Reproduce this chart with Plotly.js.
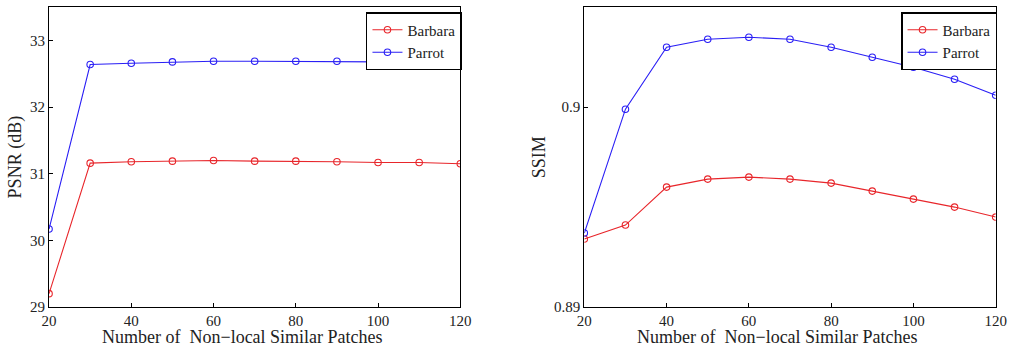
<!DOCTYPE html>
<html>
<head>
<meta charset="utf-8">
<script src="https://cdn.plot.ly/plotly-3.0.1.min.js"></script>
<style>html,body{margin:0;padding:0;background:#fff}#plot{width:1009px;height:347px}</style>
</head>
<body>
<div id="plot"></div>
<script>
const patches = [20, 30, 40, 50, 60, 70, 80, 90, 100, 110, 120];
const psnrBarbara = [29.20, 31.16, 31.18, 31.19, 31.20, 31.19, 31.19, 31.18, 31.17, 31.17, 31.15];
const psnrParrot  = [30.17, 32.64, 32.66, 32.68, 32.69, 32.69, 32.69, 32.69, 32.68, 32.67, 32.65];
const ssimBarbara = [0.8934, 0.8941, 0.8960, 0.8964, 0.8965, 0.8964, 0.8962, 0.8958, 0.8954, 0.8950, 0.8945];
const ssimParrot  = [0.8937, 0.8999, 0.9030, 0.9034, 0.9035, 0.9034, 0.9030, 0.9025, 0.9020, 0.9014, 0.9006];
const xTicks = [20, 40, 60, 80, 100, 120];
const psnrTicks = [29, 30, 31, 32, 33];
const ssimTicks = [0.89, 0.9];
const ssimTickText = ['0.89', '0.9'];
const seriesNames = ['Barbara', 'Parrot'];
const xTitle = 'Number of  Non\u2212local Similar Patches';

const RED = '#e8262b', BLUE = '#2a1ff5';
const FONT = '"Liberation Serif", "Times New Roman", serif';
const TITLEFONT = {family: FONT, size: 18, color: '#222'};

function tr(x, y, name, color, xa, ya, leg) {
  return {x: x, y: y, name: name, type: 'scatter', mode: 'lines+markers',
    xaxis: xa, yaxis: ya, legend: leg,
    line: {color: color, width: 1.1},
    marker: {symbol: 'circle-open', size: 6.5, color: color, line: {width: 1.1, color: color}}};
}
const data = [
  tr(patches, psnrBarbara, seriesNames[0], RED, 'x', 'y', 'legend'),
  tr(patches, psnrParrot, seriesNames[1], BLUE, 'x', 'y', 'legend'),
  tr(patches, ssimBarbara, seriesNames[0], RED, 'x2', 'y2', 'legend2'),
  tr(patches, ssimParrot, seriesNames[1], BLUE, 'x2', 'y2', 'legend2')
];
const axBase = {showgrid: false, zeroline: false, showline: true, mirror: true,
  linecolor: '#000', linewidth: 1, ticks: 'inside', ticklen: 4, tickcolor: '#000',
  tickfont: {family: FONT, size: 15, color: '#222'}};
const legBase = {bgcolor: '#fff', bordercolor: '#000', borderwidth: 1.5,
  font: {family: FONT, size: 15, color: '#222'}, xanchor: 'left', yanchor: 'top',
  tracegroupgap: 0, itemwidth: 30};
const layout = {
  width: 1009, height: 347, margin: {l: 0, r: 0, t: 0, b: 0},
  font: {family: FONT},
  paper_bgcolor: '#fff', plot_bgcolor: '#fff', showlegend: true,
  xaxis: Object.assign({}, axBase, {domain: [0.0486, 0.4562], range: [20, 120], tickvals: xTicks, anchor: 'y'}),
  yaxis: Object.assign({}, axBase, {domain: [0.1153, 0.979], range: [29, 33.5], tickvals: psnrTicks, anchor: 'x',
    title: {text: 'PSNR (dB)', font: TITLEFONT, standoff: 3}}),
  xaxis2: Object.assign({}, axBase, {domain: [0.5791, 0.9868], range: [20, 120], tickvals: xTicks, anchor: 'y2'}),
  yaxis2: Object.assign({}, axBase, {domain: [0.1153, 0.979], range: [0.89, 0.905], tickvals: ssimTicks, ticktext: ssimTickText, anchor: 'x2',
    title: {text: 'SSIM', font: TITLEFONT, standoff: 3}}),
  legend: Object.assign({}, legBase, {x: 0.3627, y: 0.9654}),
  legend2: Object.assign({}, legBase, {x: 0.893, y: 0.9654}),
  annotations: [
    {text: xTitle, xref: 'x domain', yref: 'paper', x: 0.4715, y: 0.0274, xanchor: 'center', yanchor: 'middle', showarrow: false, font: TITLEFONT, borderpad: 0},
    {text: xTitle, xref: 'x2 domain', yref: 'paper', x: 0.4708, y: 0.0274, xanchor: 'center', yanchor: 'middle', showarrow: false, font: TITLEFONT, borderpad: 0}
  ]
};
Plotly.newPlot('plot', data, layout, {displayModeBar: false, staticPlot: true});
</script>
</body>
</html>
